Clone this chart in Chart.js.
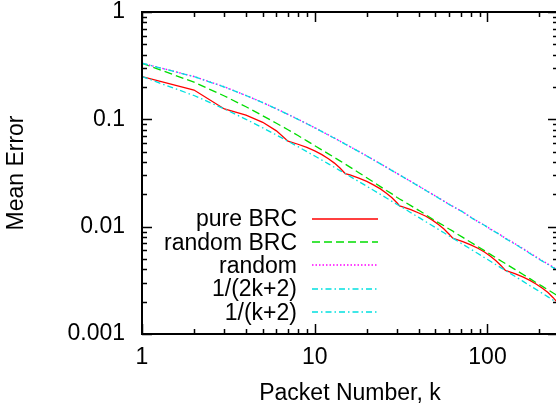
<!DOCTYPE html>
<html><head><meta charset="utf-8">
<script src="https://cdn.jsdelivr.net/npm/chart.js@4.4.0/dist/chart.umd.min.js"></script>
<style>
html,body{margin:0;padding:0;background:#fff;overflow:hidden;width:556px;height:410px}
#wrap{position:absolute;left:0;top:0;width:560px;height:410px}
</style>
</head><body><div id="wrap"><canvas id="c" width="560" height="410"></canvas></div>
<script>
const packetK = [1,2,3,4,5,6,7,8,9,10,11,12,13,14,15,16,18,20,22,24,26,28,30,31,32,36,40,44,48,52,56,60,63,64,72,80,88,96,104,112,120,127,128,144,160,176,192,208,224,240,255,256];
const pureBRC = [0.25,0.1875,0.125,0.1094,0.0938,0.0781,0.0625,0.0586,0.0547,0.0508,0.0469,0.043,0.0391,0.0352,0.03125,0.0303,
  0.0283,0.0264,0.0244,0.0225,0.0205,0.0186,0.0166,0.0156,0.0154,
  0.0144,0.0134,0.0125,0.0115,0.0105,0.0095,0.0085,0.0078,0.00775,
  0.00726,0.00677,0.00629,0.0058,0.00531,0.00482,0.00433,0.00391,0.00389,
  0.00365,0.0034,0.00316,0.00291,0.00267,0.00243,0.00218,0.00195,0.00195];
const randomBRC = [0.333,0.222,0.165,0.131,0.108,0.092,0.08,0.0706,0.063,0.0568,0.0519,0.0477,0.0441,0.041,0.0383,0.0359,
  0.0318,0.0286,0.0259,0.0236,0.0217,0.0202,0.0187,0.0181,0.0176,
  0.0157,0.0142,0.0129,0.0118,0.0109,0.0102,0.0095,0.0091,0.0089,
  0.00795,0.00716,0.00652,0.00598,0.00552,0.00513,0.00479,0.00453,0.0045,
  0.004,0.0036,0.00328,0.003,0.00278,0.00258,0.00241,0.00227,0.00226];
const randomPts = [0.3333,0.2505,0.2008,0.1668,0.1433,0.1254,0.1113,0.1003,0.0911,0.0836,0.0771,0.0716,0.0669,0.0627,0.059,0.0557,
  0.0502,0.0456,0.0418,0.0386,0.0358,0.0334,0.0313,0.0304,0.0295,
  0.0264,0.0239,0.0218,0.0201,0.0186,0.0173,0.0162,0.01545,0.0152,
  0.01375,0.01225,0.01115,0.01035,0.0095,0.0089,0.0083,0.0078,0.00775,
  0.00695,0.00628,0.00568,0.0052,0.0048,0.00448,0.0042,0.00393,0.00392];
const inv2k2 = [0.25,0.1667,0.125,0.1,0.0833,0.0714,0.0625,0.0556,0.05,0.0455,0.0417,0.0385,0.0357,0.0333,0.03125,0.0294,
  0.0263,0.0238,0.0217,0.02,0.0185,0.0172,0.0161,0.0156,0.0152,
  0.0135,0.0122,0.0111,0.0102,0.00943,0.00877,0.0082,0.00781,0.00769,
  0.00685,0.00617,0.00562,0.00515,0.00476,0.00442,0.00413,0.00391,0.00388,
  0.00345,0.00311,0.00282,0.00259,0.00239,0.00222,0.00207,0.00195,0.00195];
const invk2 = [0.3333,0.25,0.2,0.1667,0.1429,0.125,0.1111,0.1,0.0909,0.0833,0.0769,0.0714,0.0667,0.0625,0.0588,0.0556,
  0.05,0.0455,0.0417,0.0385,0.0357,0.0333,0.03125,0.0303,0.0294,
  0.0263,0.0238,0.0217,0.02,0.0185,0.0172,0.0161,0.0154,0.0152,
  0.0137,0.0122,0.0111,0.0103,0.00943,0.00885,0.00826,0.00775,0.00769,
  0.0069,0.00621,0.00562,0.00515,0.00476,0.00444,0.00415,0.00389,0.00388];
const seriesNames = ['pure BRC','random BRC','random','1/(2k+2)','1/(k+2)'];
const xTickLabels = ['1','10','100'];
const yTickLabels = ['0.001','0.01','0.1','1'];
const xTitle = 'Packet Number, k';
const yTitle = 'Mean Error';

const FONT = '"Liberation Sans", Arial, Helvetica, sans-serif';
Chart.defaults.font.family = FONT;
Chart.defaults.font.size = 23;
Chart.defaults.color = '#000';

const toPts = arr => packetK.map((k,i)=>({x:k,y:arr[i]}));
const styles = [
  {c:'#ff0000', d:[], w:1.3, o:5},
  {c:'#00dd00', d:[8,4], w:1.3, o:4},
  {c:'#ff00ff', d:[1.5,2], w:1.4, o:3},
  {c:'#00e0e0', d:[6,3,1.5,3], w:1.3, o:2},
  {c:'#00e0e0', d:[6,3,1.5,3], w:1.3, o:1}
];
const series = [pureBRC, randomBRC, randomPts, inv2k2, invk2];

const niceVal = v => { const e=Math.floor(Math.log10(v)+1e-9); const m=v/Math.pow(10,e); return Math.abs(m-Math.round(m))<1e-6; };
const isMajor = v => Math.abs(Math.log10(v)-Math.round(Math.log10(v)))<1e-6;
const fmt = v => String(+Number(v).toPrecision(6));

const framePlugin = {
  id:'frame',
  afterDatasetsDraw(chart){
    const {ctx, chartArea:a, scales:{x,y}} = chart;
    ctx.save();
    ctx.strokeStyle='#000'; ctx.lineWidth=1.5; ctx.setLineDash([]);
    ctx.beginPath();
    x.ticks.forEach(t=>{
      if(!niceVal(t.value)) return;
      const px=Math.round(x.getPixelForValue(t.value))+0.5;
      const L=isMajor(t.value)?10:5;
      ctx.moveTo(px,a.bottom); ctx.lineTo(px,a.bottom-L);
      ctx.moveTo(px,a.top); ctx.lineTo(px,a.top+L);
    });
    y.ticks.forEach(t=>{
      if(!niceVal(t.value)) return;
      const py=Math.round(y.getPixelForValue(t.value))+0.5;
      const L=isMajor(t.value)?10:5;
      ctx.moveTo(a.left,py); ctx.lineTo(a.left+L,py);
      ctx.moveTo(a.right,py); ctx.lineTo(a.right-L,py);
    });
    ctx.stroke();
    ctx.lineWidth=2;
    ctx.strokeRect(a.left,a.top,a.right-a.left,a.bottom-a.top);
    ctx.restore();
  }
};

const legendPlugin = {
  id:'legendRight',
  afterDraw(chart){
    const ctx=chart.ctx;
    seriesNames.forEach((name,i)=>{
      const yy = 218.5 + i*23.35;
      ctx.save();
      ctx.font='23px '+FONT;
      ctx.textAlign='right'; ctx.textBaseline='middle'; ctx.fillStyle='#000';
      ctx.fillText(name, 297, yy+1.5);
      ctx.restore();
      ctx.save();
      ctx.strokeStyle=styles[i].c; ctx.lineWidth=1.6; ctx.setLineDash(styles[i].d);
      const ly = Math.round(yy);
      ctx.beginPath(); ctx.moveTo(312,ly); ctx.lineTo(378,ly); ctx.stroke();
      ctx.restore();
    });
  }
};

new Chart(document.getElementById('c'), {
  type:'line',
  data:{
    datasets: series.map((arr,i)=>({
      label: seriesNames[i],
      data: toPts(arr),
      borderColor: styles[i].c,
      borderDash: styles[i].d,
      borderWidth: styles[i].w,
      pointRadius: 0,
      tension: 0,
      fill: false,
      order: styles[i].o
    }))
  },
  options:{
    responsive:false,
    animation:false,
    devicePixelRatio:1,
    layout:{padding:{top:12,right:2,left:0,bottom:0}},
    plugins:{legend:{display:false}, tooltip:{enabled:false}},
    scales:{
      x:{
        type:'logarithmic', position:'bottom', min:1, max:256,
        grid:{display:false, drawTicks:false},
        border:{display:false},
        ticks:{autoSkip:false, maxRotation:0, padding:10,
          callback:(v)=>{ const s=fmt(v); return xTickLabels.includes(s)?s:''; }},
        title:{display:true, text:xTitle, padding:{top:0,bottom:3}},
        afterFit:(s)=>{ s.height = 76; s.paddingLeft=0; s.paddingRight=0; s.paddingTop=0; s.paddingBottom=0; }
      },
      y:{
        type:'logarithmic', position:'left', min:0.001, max:1,
        grid:{display:false, drawTicks:false},
        border:{display:false},
        ticks:{autoSkip:false, padding:17,
          callback:(v)=>{ const s=fmt(v); return yTickLabels.includes(s)?s:''; }},
        title:{display:true, text:yTitle, padding:{top:3,bottom:0}},
        afterFit:(s)=>{ s.width = 142; s.paddingTop=0; s.paddingBottom=0; s.paddingLeft=0; s.paddingRight=0; }
      }
    }
  },
  plugins:[framePlugin, legendPlugin]
});
</script>
</body></html>
